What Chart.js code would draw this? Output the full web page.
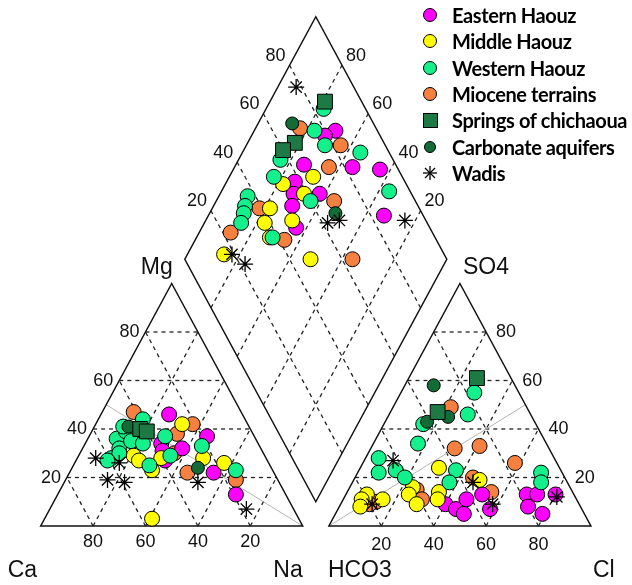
<!DOCTYPE html>
<html>
<head>
<meta charset="utf-8">
<script src="https://cdn.jsdelivr.net/npm/chart.js@4.4.1/dist/chart.umd.min.js"></script>
<style>
  html, body { margin: 0; padding: 0; background: #fff; }
  #wrap { position: relative; width: 632px; height: 585px; }
  #legend { position: absolute; left: 421px; top: 2px; font: 700 20px Lato, "Open Sans", sans-serif; color: #000; letter-spacing: -0.4px; }
  .row { height: 26.3px; display: flex; align-items: center; }
  .mk { width: 18px; height: 18px; display: flex; align-items: center; justify-content: center; margin-right: 13px; }
  .mk span { display: block; box-sizing: border-box; border: 1px solid #000; }
</style>
</head>
<body>
<div id="wrap">
  <canvas id="piper"></canvas>
  <div id="legend"></div>
</div>
<script>
// tick values used on every ternary axis
const tickValues = [20, 40, 60, 80];

// cation triangle: [Ca %, Mg %]
// anion triangle: [Cl %, SO4 %]
// diamond: [Ca+Mg %, Cl+SO4 %]
const easternCation = [[28, 46], [18, 37], [37, 34], [30, 32], [23, 22], [19, 13], [39, 27], [38, 31]];
const easternAnion = [[40, 9], [45, 7], [49, 5], [47, 11], [52, 13], [58, 7], [69, 13], [73, 13], [72, 8], [79, 5], [80, 13]];
const easternDiamond = [[69, 84], [72, 79], [74, 65], [55, 83], [44, 93], [74, 58], [72, 55], [62, 65], [70, 52], [33, 85], [64, 49]];

const middleCation = [[25, 42], [24, 28], [17, 26], [50, 29], [49, 27], [46, 23], [40, 28], [56, 3]];
const middleAnion = [[30, 24], [48, 19], [24, 16], [24, 13], [29, 9], [35, 14], [36, 11], [8, 13], [7, 11], [8, 8], [15, 11]];
const middleDiamond = [[68, 66], [78, 53], [78, 43], [68, 59], [77, 38], [67, 49], [72, 37], [86, 16], [52, 48]];

const westernCation = [[53, 36], [48, 39], [54, 32], [59, 28], [55, 30], [48, 35], [44, 34], [46, 25], [34, 37], [36, 29], [48, 41], [22, 33], [14, 23], [61, 27], [39, 44]];
const westernAnion = [[28, 55], [30, 46], [15, 42], [17, 34], [5, 28], [8, 22], [14, 23], [19, 20], [37, 23], [37, 18], [70, 22], [72, 18]];
const westernDiamond = [[78, 84], [77, 76], [70, 77], [55, 89], [84, 57], [83, 51], [89, 37], [88, 34], [87, 32], [86, 29], [64, 60], [71, 38], [36, 92]];

const mioceneCation = [[41, 47], [21, 42], [29, 38], [45, 38], [33, 22], [16, 19], [34, 30]];
const mioceneAnion = [[22, 49], [32, 32], [41, 33], [58, 26], [26, 15], [30, 11], [13, 10], [45, 20], [55, 14], [11, 9]];
const mioceneDiamond = [[83, 71], [64, 83], [64, 74], [55, 69], [82, 39], [88, 23], [66, 42], [36, 64]];

const springsCation = [[42, 40], [40, 39]];
const springsAnion = [[26, 61], [18, 47]];
const springsDiamond = [[79, 86], [82, 66], [85, 60]];

const carbonateCation = [[28, 24], [46, 41]];
const carbonateAnion = [[11, 58], [16, 43], [23, 45]];
const carbonateDiamond = [[87, 69], [52, 67]];

const wadisCation = [[65, 28], [57, 26], [65, 19], [59, 18], [31, 18], [18, 7]];
const wadisAnion = [[11, 27], [12, 9], [46, 18], [58, 9], [81, 12]];
const wadisDiamond = [[93, 78], [53, 62], [49, 67], [24, 92], [83, 19], [76, 22]];

const groupNames = ["Eastern Haouz", "Middle Haouz", "Western Haouz", "Miocene terrains", "Springs of chichaoua", "Carbonate aquifers", "Wadis"];

// geometry: triangle side 100 in x, height 100 in y, gap 10 between the triangles
const GAP = 10;
const RIGHT = 100 + GAP;

function fromCation(p) {
    const ca = p[0], mg = p[1];
    const na = 100 - ca - mg;
    return { x: na + mg / 2, y: mg };
}

function fromAnion(p) {
    const cl = p[0], so4 = p[1];
    return { x: RIGHT + cl + so4 / 2, y: so4 };
}

function diamondXY(t, r) {
    return { x: 100 + GAP / 2 - 50 * t + 50 * r, y: GAP + 100 * t + 100 * r };
}

function fromDiamond(p) {
    return diamondXY(p[0] / 100, p[1] / 100);
}

function points(cat, an, dia) {
    return [...cat.map(fromCation), ...an.map(fromAnion), ...dia.map(fromDiamond)];
}

const groups = [
    { label: groupNames[0], data: points(easternCation, easternAnion, easternDiamond), color: "#ff00ff", style: "circle", r: 7.5, order: 6 },
    { label: groupNames[1], data: points(middleCation, middleAnion, middleDiamond), color: "#ffff00", style: "circle", r: 7.5, order: 5 },
    { label: groupNames[2], data: points(westernCation, westernAnion, westernDiamond), color: "#14f08c", style: "circle", r: 7.5, order: 4 },
    { label: groupNames[3], data: points(mioceneCation, mioceneAnion, mioceneDiamond), color: "#f5803f", style: "circle", r: 7.5, order: 7 },
    { label: groupNames[4], data: points(springsCation, springsAnion, springsDiamond), color: "#1d7a44", style: "rect", r: 10.5, order: 2 },
    { label: groupNames[5], data: points(carbonateCation, carbonateAnion, carbonateDiamond), color: "#136b36", style: "circle", r: 6.5, order: 3 },
    { label: groupNames[6], data: points(wadisCation, wadisAnion, wadisDiamond), color: "#000000", style: "star", r: 8, order: 1 },
];

function text(ctx, s, px, py, align, size) {
    ctx.save();
    ctx.translate(px, py);
    ctx.scale(1, 1.07);
    ctx.font = size + 'px "Liberation Sans", Arial, sans-serif';
    ctx.textAlign = align;
    ctx.textBaseline = "middle";
    ctx.fillStyle = "#111";
    ctx.fillText(s, 0, 0);
    ctx.restore();
}

const piperGrid = {
    id: "piperGrid",
    beforeDatasetsDraw(chart) {
        const { ctx, scales: { x, y } } = chart;
        const P = (a) => [x.getPixelForValue(a.x), y.getPixelForValue(a.y)];
        const seg = (a, b) => {
            const p = P(a), q = P(b);
            ctx.beginPath();
            ctx.moveTo(p[0], p[1]);
            ctx.lineTo(q[0], q[1]);
            ctx.stroke();
        };
        const poly = (pts) => {
            ctx.beginPath();
            pts.forEach((a, i) => {
                const p = P(a);
                if (i === 0) ctx.moveTo(p[0], p[1]); else ctx.lineTo(p[0], p[1]);
            });
            ctx.closePath();
            ctx.stroke();
        };

        ctx.save();
        // dashed grid
        ctx.strokeStyle = "#222";
        ctx.lineWidth = 1.3;
        ctx.setLineDash([4, 4]);
        [0, RIGHT].forEach((ox) => {
            tickValues.forEach((k) => {
                seg({ x: ox + k / 2, y: k }, { x: ox + 100 - k / 2, y: k });
                seg({ x: ox + k, y: 0 }, { x: ox + k + (100 - k) / 2, y: 100 - k });
                seg({ x: ox + 100 - k, y: 0 }, { x: ox + (100 - k) / 2, y: 100 - k });
            });
        });
        tickValues.forEach((k) => {
            const f = k / 100;
            seg(diamondXY(f, 0), diamondXY(f, 1));
            seg(diamondXY(0, f), diamondXY(1, f));
        });
        ctx.setLineDash([]);

        // reference lines
        ctx.strokeStyle = "#b4b4b4";
        ctx.lineWidth = 1;
        seg({ x: 25, y: 50 }, { x: 100, y: 0 });
        seg({ x: RIGHT, y: 0 }, { x: RIGHT + 75, y: 50 });

        // outlines
        ctx.strokeStyle = "#111";
        ctx.lineWidth = 1.5;
        poly([{ x: 0, y: 0 }, { x: 100, y: 0 }, { x: 50, y: 100 }]);
        poly([{ x: RIGHT, y: 0 }, { x: RIGHT + 100, y: 0 }, { x: RIGHT + 50, y: 100 }]);
        poly([diamondXY(0, 0), diamondXY(1, 0), diamondXY(1, 1), diamondXY(0, 1)]);

        // tick labels
        tickValues.forEach((k) => {
            let p = P({ x: k / 2, y: k });
            text(ctx, String(k), p[0] - 6, p[1], "right", 18);
            p = P({ x: 100 - k, y: 0 });
            text(ctx, String(k), p[0], p[1] + 16, "center", 18);
            p = P({ x: RIGHT + 100 - k / 2, y: k });
            text(ctx, String(k), p[0] + 10, p[1], "left", 18);
            p = P({ x: RIGHT + k, y: 0 });
            text(ctx, String(k), p[0], p[1] + 19, "center", 18);
            p = P(diamondXY(1, k / 100));
            text(ctx, String(k), p[0] - 4, p[1] - 10, "right", 18);
            p = P(diamondXY(k / 100, 1));
            text(ctx, String(k), p[0] + 4, p[1] - 10, "left", 18);
        });

        // corner labels
        let p = P({ x: 0, y: 0 });
        text(ctx, "Ca", p[0] - 33, p[1] + 44, "left", 23);
        p = P({ x: 100, y: 0 });
        text(ctx, "Na", p[0], p[1] + 44, "right", 23);
        p = P({ x: RIGHT, y: 0 });
        text(ctx, "HCO3", p[0] - 1, p[1] + 44, "left", 23);
        p = P({ x: RIGHT + 100, y: 0 });
        text(ctx, "Cl", p[0] + 2, p[1] + 44, "left", 23);
        p = P({ x: 50, y: 100 });
        text(ctx, "Mg", p[0] + 1, p[1] - 16, "right", 23);
        p = P({ x: RIGHT + 50, y: 100 });
        text(ctx, "SO4", p[0] + 3, p[1] - 16, "left", 23);
        ctx.restore();
    },
};

const chart = new Chart(document.getElementById("piper"), {
    type: "scatter",
    data: {
        datasets: groups.map((g) => ({
            label: g.label,
            data: g.data,
            order: g.order,
            pointStyle: g.style,
            pointRadius: g.r,
            pointHoverRadius: g.r,
            backgroundColor: g.color,
            borderColor: "#000",
            borderWidth: g.style === "star" ? 1.3 : 1,
        })),
    },
    options: {
        responsive: true,
        maintainAspectRatio: false,
        animation: false,
        layout: { padding: 0, autoPadding: false },
        plugins: { legend: { display: false }, tooltip: { enabled: false } },
        scales: {
            x: { type: "linear", display: false, min: -15.534, max: 225.687 },
            y: { type: "linear", display: false, min: -24.33, max: 216.91 },
        },
    },
    plugins: [piperGrid],
});

// legend built from the same groups
const legendEl = document.getElementById("legend");
groups.forEach((g) => {
    const row = document.createElement("div");
    row.className = "row";
    let marker;
    if (g.style === "star") {
        marker = '<svg width="16" height="16" viewBox="-8 -8 16 16" stroke="#000" stroke-width="1.3">' +
            '<line x1="-7" y1="0" x2="7" y2="0"/><line x1="0" y1="-7" x2="0" y2="7"/>' +
            '<line x1="-5" y1="-5" x2="5" y2="5"/><line x1="-5" y1="5" x2="5" y2="-5"/></svg>';
    } else if (g.style === "rect") {
        marker = `<span style="width:15px;height:15px;background:${g.color}"></span>`;
    } else {
        const d = g.r === 7.5 ? 14 : 12;
        marker = `<span style="width:${d}px;height:${d}px;border-radius:50%;background:${g.color}"></span>`;
    }
    row.innerHTML = `<div class="mk">${marker}</div><div>${g.label}</div>`;
    legendEl.appendChild(row);
});
</script>
</body>
</html>
